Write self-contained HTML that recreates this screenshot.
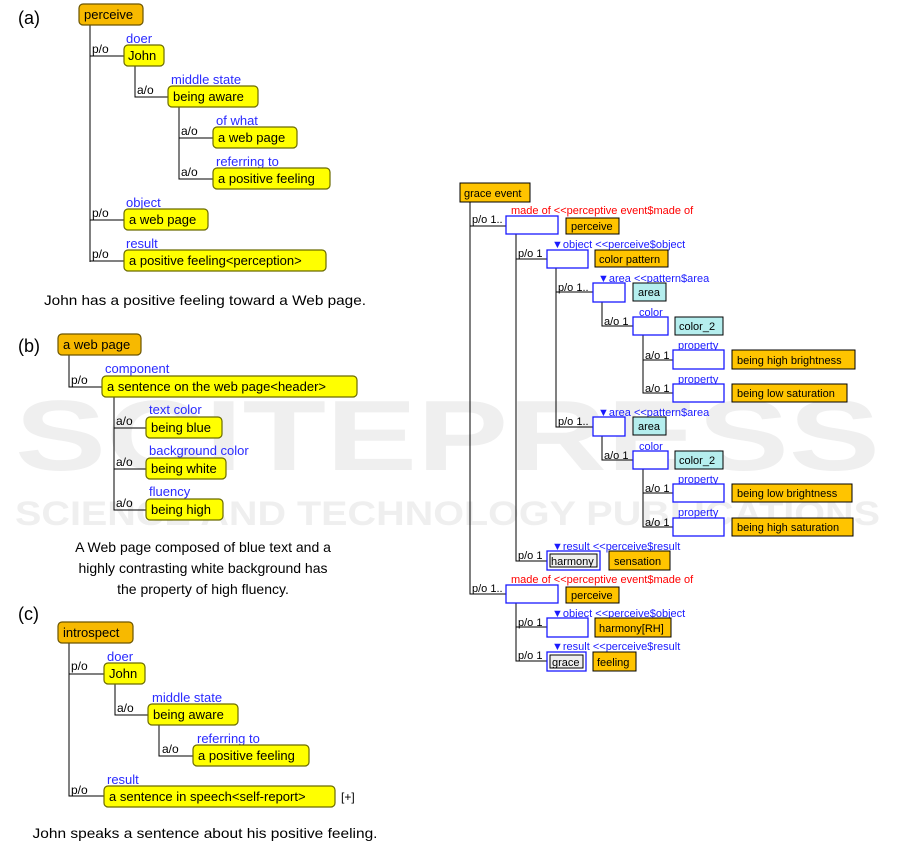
<!DOCTYPE html>
<html><head><meta charset="utf-8"><style>
html,body{margin:0;padding:0;background:#fff;}
svg{display:block;font-family:"Liberation Sans",sans-serif;}
.l{font-size:13px;fill:#000}
.bl{font-size:13px;fill:#2a2aff}
.sm{font-size:12px;fill:#000}
.cap{font-family:"Liberation Sans",sans-serif;font-size:14px;fill:#000}
.r{font-size:11px;fill:#000}
.rb{font-size:11px;fill:#1a1aff}
.rr{font-size:11px;fill:#f00}
.y{fill:#ffff00;stroke:#6b6b00;stroke-width:1.2}
.o{fill:#f7b900;stroke:#6b5500;stroke-width:1.2}
.ln{stroke:#000;stroke-width:1;fill:none}
.eb{fill:#fff;stroke:#1a1aff;stroke-width:1.3}
.ob{fill:#ffc400;stroke:#000;stroke-width:1}
.cb{fill:#b5eeee;stroke:#000;stroke-width:1}
</style></head><body>
<svg width="901" height="843" viewBox="0 0 901 843">
<!-- watermark -->
<g fill="#efefef" font-weight="bold">
<text x="15" y="470" font-size="100" textLength="865" lengthAdjust="spacingAndGlyphs">SCITEPRESS</text>
<text x="15" y="525" font-size="34" textLength="865" lengthAdjust="spacingAndGlyphs">SCIENCE AND TECHNOLOGY PUBLICATIONS</text>
</g>

<!-- (a) -->
<text x="18" y="24" font-size="18">(a)</text>
<path class="ln" d="M90 25V262M90 56H124M90 220H124M90 261H124M135 66V97H168M179 107V179H213M179 138H213"/>
<rect class="o" x="79" y="4" width="64" height="21" rx="4"/><text class="l" x="84" y="19">perceive</text>
<text class="sm" x="92" y="53">p/o</text>
<text class="bl" x="126" y="43">doer</text>
<rect class="y" x="124" y="45" width="40" height="21" rx="4"/><text class="l" x="128" y="60">John</text>
<text class="sm" x="137" y="94">a/o</text>
<text class="bl" x="171" y="84">middle state</text>
<rect class="y" x="168" y="86" width="90" height="21" rx="4"/><text class="l" x="173" y="101">being aware</text>
<text class="sm" x="181" y="135">a/o</text>
<text class="bl" x="216" y="125">of what</text>
<rect class="y" x="213" y="127" width="84" height="21" rx="4"/><text class="l" x="218" y="142">a web page</text>
<text class="sm" x="181" y="176">a/o</text>
<text class="bl" x="216" y="166">referring to</text>
<rect class="y" x="213" y="168" width="117" height="21" rx="4"/><text class="l" x="218" y="183">a positive feeling</text>
<text class="sm" x="92" y="217">p/o</text>
<text class="bl" x="126" y="207">object</text>
<rect class="y" x="124" y="209" width="84" height="21" rx="4"/><text class="l" x="129" y="224">a web page</text>
<text class="sm" x="92" y="258">p/o</text>
<text class="bl" x="126" y="248">result</text>
<rect class="y" x="124" y="250" width="202" height="21" rx="4"/><text class="l" x="129" y="265">a positive feeling&lt;perception&gt;</text>
<text class="cap" x="205" y="305" text-anchor="middle" textLength="322" lengthAdjust="spacingAndGlyphs">John has a positive feeling toward a Web page.</text>

<!-- (b) -->
<text x="18" y="352" font-size="18">(b)</text>
<path class="ln" d="M69 355V387H102M114 397V510H146M114 428H146M114 469H146"/>
<rect class="o" x="58" y="334" width="83" height="21" rx="4"/><text class="l" x="63" y="349">a web page</text>
<text class="sm" x="71" y="384">p/o</text>
<text class="bl" x="105" y="373">component</text>
<rect class="y" x="102" y="376" width="255" height="21" rx="4"/><text class="l" x="107" y="391">a sentence on the web page&lt;header&gt;</text>
<text class="sm" x="116" y="425">a/o</text>
<text class="bl" x="149" y="414">text color</text>
<rect class="y" x="146" y="417" width="76" height="21" rx="4"/><text class="l" x="151" y="432">being blue</text>
<text class="sm" x="116" y="466">a/o</text>
<text class="bl" x="149" y="455">background color</text>
<rect class="y" x="146" y="458" width="80" height="21" rx="4"/><text class="l" x="151" y="473">being white</text>
<text class="sm" x="116" y="507">a/o</text>
<text class="bl" x="149" y="496">fluency</text>
<rect class="y" x="146" y="499" width="77" height="21" rx="4"/><text class="l" x="151" y="514">being high</text>
<text class="cap" x="203" y="552" text-anchor="middle">A Web page composed of blue text and a</text>
<text class="cap" x="203" y="573" text-anchor="middle">highly contrasting white background has</text>
<text class="cap" x="203" y="594" text-anchor="middle">the property of high fluency.</text>

<!-- (c) -->
<text x="18" y="620" font-size="18">(c)</text>
<path class="ln" d="M69 643V796H104M69 674H104M115 684V715H148M159 725V756H193"/>
<rect class="o" x="58" y="622" width="75" height="21" rx="4"/><text class="l" x="63" y="637">introspect</text>
<text class="sm" x="71" y="670">p/o</text>
<text class="bl" x="107" y="661">doer</text>
<rect class="y" x="104" y="663" width="41" height="21" rx="4"/><text class="l" x="109" y="678">John</text>
<text class="sm" x="117" y="712">a/o</text>
<text class="bl" x="152" y="702">middle state</text>
<rect class="y" x="148" y="704" width="90" height="21" rx="4"/><text class="l" x="153" y="719">being aware</text>
<text class="sm" x="162" y="753">a/o</text>
<text class="bl" x="197" y="743">referring to</text>
<rect class="y" x="193" y="745" width="116" height="21" rx="4"/><text class="l" x="198" y="760">a positive feeling</text>
<text class="sm" x="71" y="794">p/o</text>
<text class="bl" x="107" y="784">result</text>
<rect class="y" x="104" y="786" width="231" height="21" rx="4"/><text class="l" x="109" y="801">a sentence in speech&lt;self-report&gt;</text>
<text class="sm" x="341" y="801">[+]</text>
<text class="cap" x="205" y="838" text-anchor="middle" textLength="345" lengthAdjust="spacingAndGlyphs">John speaks a sentence about his positive feeling.</text>

<!-- right tree -->
<path class="ln" d="M470 202V594H506M470 226H506M516 234V561H547M516 259H547M556 268V427H593M556 292H593M602 302V326H633M643 335V393H673M643 360H673M602 436V460H633M643 469V527H673M643 493H673M516 603V661H547M516 627H547"/>
<rect class="ob" x="460" y="183" width="70" height="19"/><text class="r" x="464" y="197">grace event</text>
<text class="rr" x="511" y="214">made of &lt;&lt;perceptive event$made of</text>
<text class="r" x="472" y="223">p/o 1..</text>
<rect class="eb" x="506" y="216" width="52" height="18"/>
<rect class="ob" x="566" y="218" width="53" height="16"/><text class="r" x="571" y="230">perceive</text>
<text class="rb" x="552" y="248">▼object &lt;&lt;perceive$object</text>
<text class="r" x="518" y="257">p/o 1</text>
<rect class="eb" x="547" y="250" width="41" height="18"/>
<rect class="ob" x="595" y="250" width="73" height="17"/><text class="r" x="599" y="263">color pattern</text>
<text class="rb" x="598" y="282">▼area &lt;&lt;pattern$area</text>
<text class="r" x="558" y="291">p/o 1..</text>
<rect class="eb" x="593" y="283" width="32" height="19"/>
<rect class="cb" x="633" y="283" width="33" height="18"/><text class="r" x="638" y="296">area</text>
<text class="rb" x="639" y="316">color</text>
<text class="r" x="604" y="325">a/o 1</text>
<rect class="eb" x="633" y="317" width="35" height="18"/>
<rect class="cb" x="675" y="317" width="48" height="18"/><text class="r" x="679" y="330">color_2</text>
<text class="rb" x="678" y="349">property</text>
<text class="r" x="645" y="359">a/o 1</text>
<rect class="eb" x="673" y="350" width="51" height="19"/>
<rect class="ob" x="732" y="350" width="123" height="19"/><text class="r" x="737" y="364">being high brightness</text>
<text class="rb" x="678" y="383">property</text>
<text class="r" x="645" y="392">a/o 1</text>
<rect class="eb" x="673" y="384" width="51" height="18"/>
<rect class="ob" x="732" y="384" width="115" height="18"/><text class="r" x="737" y="397">being low saturation</text>
<text class="rb" x="598" y="416">▼area &lt;&lt;pattern$area</text>
<text class="r" x="558" y="425">p/o 1..</text>
<rect class="eb" x="593" y="417" width="32" height="19"/>
<rect class="cb" x="633" y="417" width="33" height="18"/><text class="r" x="638" y="430">area</text>
<text class="rb" x="639" y="450">color</text>
<text class="r" x="604" y="459">a/o 1</text>
<rect class="eb" x="633" y="451" width="35" height="18"/>
<rect class="cb" x="675" y="451" width="48" height="18"/><text class="r" x="679" y="464">color_2</text>
<text class="rb" x="678" y="483">property</text>
<text class="r" x="645" y="492">a/o 1</text>
<rect class="eb" x="673" y="484" width="51" height="18"/>
<rect class="ob" x="732" y="484" width="120" height="18"/><text class="r" x="737" y="497">being low brightness</text>
<text class="rb" x="678" y="516">property</text>
<text class="r" x="645" y="526">a/o 1</text>
<rect class="eb" x="673" y="518" width="51" height="18"/>
<rect class="ob" x="732" y="518" width="121" height="18"/><text class="r" x="737" y="531">being high saturation</text>
<text class="rb" x="552" y="550">▼result &lt;&lt;perceive$result</text>
<text class="r" x="518" y="559">p/o 1</text>
<rect class="eb" x="547" y="551" width="53" height="19"/>
<rect x="550" y="554" width="47" height="13" fill="#eee" stroke="#000"/><text class="r" x="551" y="565">harmony</text>
<rect class="ob" x="609" y="551" width="61" height="19"/><text class="r" x="614" y="565">sensation</text>
<text class="rr" x="511" y="583">made of &lt;&lt;perceptive event$made of</text>
<text class="r" x="472" y="592">p/o 1..</text>
<rect class="eb" x="506" y="585" width="52" height="18"/>
<rect class="ob" x="566" y="587" width="53" height="16"/><text class="r" x="571" y="599">perceive</text>
<text class="rb" x="552" y="617">▼object &lt;&lt;perceive$object</text>
<text class="r" x="518" y="626">p/o 1</text>
<rect class="eb" x="547" y="618" width="41" height="19"/>
<rect class="ob" x="595" y="618" width="76" height="19"/><text class="r" x="599" y="632">harmony[RH]</text>
<text class="rb" x="552" y="650">▼result &lt;&lt;perceive$result</text>
<text class="r" x="518" y="659">p/o 1</text>
<rect class="eb" x="547" y="652" width="39" height="19"/>
<rect x="550" y="655" width="33" height="13" fill="#eee" stroke="#000"/><text class="r" x="552" y="666">grace</text>
<rect class="ob" x="593" y="652" width="43" height="19"/><text class="r" x="597" y="666">feeling</text>
</svg>
</body></html>
